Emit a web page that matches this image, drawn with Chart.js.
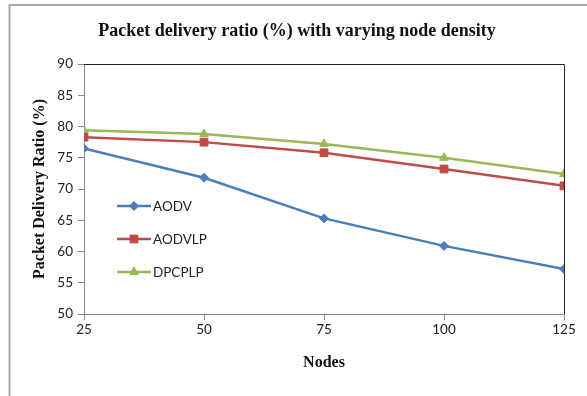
<!DOCTYPE html>
<html>
<head>
<meta charset="utf-8">
<script src="https://cdn.jsdelivr.net/npm/chart.js@4/dist/chart.umd.min.js"></script>
<style>
  html, body { margin: 0; padding: 0; background: #fff; }
  #wrap { width: 587px; height: 396px; position: relative; }
</style>
</head>
<body>
<div id="wrap"><canvas id="c" width="587" height="396"></canvas></div>
<script>
const nodes = [25, 50, 75, 100, 125];
const aodv = [76.5, 71.8, 65.3, 60.9, 57.2];
const aodvlp = [78.3, 77.5, 75.8, 73.2, 70.5];
const dpcplp = [79.4, 78.8, 77.2, 75.0, 72.4];
const seriesNames = ['AODV', 'AODVLP', 'DPCPLP'];
const yTicks = [50, 55, 60, 65, 70, 75, 80, 85, 90];

const toPts = arr => nodes.map((n, i) => ({x: n, y: arr[i]}));

const outerFrame = {
  id: 'outerFrame',
  beforeDraw(chart) {
    const ctx = chart.ctx;
    ctx.save();
    ctx.fillStyle = '#fff';
    ctx.fillRect(0, 0, chart.width, chart.height);
    ctx.strokeStyle = '#a8a8a8';
    ctx.lineWidth = 2;
    ctx.beginPath();
    ctx.moveTo(9.5, 396);
    ctx.lineTo(9.5, 5);
    ctx.lineTo(587, 5);
    ctx.stroke();
    ctx.restore();
  },
  beforeDatasetsDraw(chart) {
    const {ctx, chartArea: a} = chart;
    ctx.save();
    ctx.strokeStyle = '#222';
    ctx.lineWidth = 1;
    ctx.beginPath();
    ctx.moveTo(a.left, a.top + 0.5);
    ctx.lineTo(a.right + 0.5, a.top + 0.5);
    ctx.lineTo(a.right + 0.5, a.bottom);
    ctx.stroke();
    ctx.restore();
  }
};

const innerLegend = {
  id: 'innerLegend',
  afterDatasetsDraw(chart) {
    const ctx = chart.ctx;
    const x0 = 117, x1 = 151, ys = [206, 239, 272];
    ctx.save();
    chart.data.datasets.forEach((ds, i) => {
      const y = ys[i];
      ctx.strokeStyle = ds.borderColor;
      ctx.lineWidth = 2.5;
      ctx.beginPath();
      ctx.moveTo(x0, y);
      ctx.lineTo(x1, y);
      ctx.stroke();
      ctx.fillStyle = ds.borderColor;
      ctx.strokeStyle = ds.borderColor;
      ctx.lineWidth = 1;
      Chart.helpers.drawPoint(ctx, {pointStyle: ds.pointStyle, radius: ds.pointRadius, rotation: 0, borderWidth: 1}, (x0 + x1) / 2, y);
      ctx.fillStyle = '#222';
      ctx.font = '13.5px Lato';
      ctx.textAlign = 'left';
      ctx.textBaseline = 'middle';
      ctx.fillText(ds.label, x1 + 2, y + 1);
    });
    ctx.restore();
  }
};

const mk = (label, data, color, style, r) => ({
  label, data: toPts(data), borderColor: color, backgroundColor: color,
  pointBackgroundColor: color, pointBorderColor: color, pointStyle: style,
  pointRadius: r, pointBorderWidth: 1, borderWidth: 2.5, tension: 0
});

new Chart(document.getElementById('c'), {
  type: 'line',
  data: {
    datasets: [
      mk(seriesNames[0], aodv, '#4a7ebb', 'rectRot', 4.5),
      mk(seriesNames[1], aodvlp, '#be4b48', 'rect', 5.5),
      mk(seriesNames[2], dpcplp, '#98b954', 'triangle', 5)
    ]
  },
  options: {
    responsive: false,
    animation: false,
    layout: { padding: { left: 30, right: 23, top: 0, bottom: 0 } },
    plugins: {
      legend: { display: false },
      tooltip: { enabled: false },
      title: {
        display: true,
        text: 'Packet delivery ratio (%) with varying node density',
        color: '#111',
        font: { family: 'Liberation Serif', size: 18, weight: 'bold' },
        padding: { top: 21, bottom: 21.4 }
      }
    },
    scales: {
      x: {
        type: 'linear', min: 25, max: 125,
        afterFit(s) { s.height = 82; },
        ticks: { stepSize: 25, color: '#222', font: { family: 'Lato', size: 13.5 }, padding: 2 },
        grid: { drawOnChartArea: false, drawTicks: true, tickLength: 6, color: '#888' },
        border: { display: true, color: '#888', width: 1 },
        title: { display: true, text: 'Nodes', color: '#111',
          font: { family: 'Liberation Serif', size: 16, weight: 'bold' }, padding: { top: 0, bottom: 24 } }
      },
      y: {
        min: 50, max: 90,
        afterFit(s) { s.width = 54; },
        afterBuildTicks(s) { s.ticks = yTicks.map(v => ({value: v})); },
        ticks: { color: '#222', font: { family: 'Lato', size: 13.5 }, padding: 5 },
        grid: { drawOnChartArea: false, drawTicks: true, tickLength: 6, color: '#888' },
        border: { display: true, color: '#888', width: 1 },
        title: { display: true, text: 'Packet Delivery Ratio (%)', color: '#111',
          font: { family: 'Liberation Serif', size: 16, weight: 'bold' }, padding: { top: 0, bottom: 0 } }
      }
    }
  },
  plugins: [outerFrame, innerLegend]
});
</script>
</body>
</html>
